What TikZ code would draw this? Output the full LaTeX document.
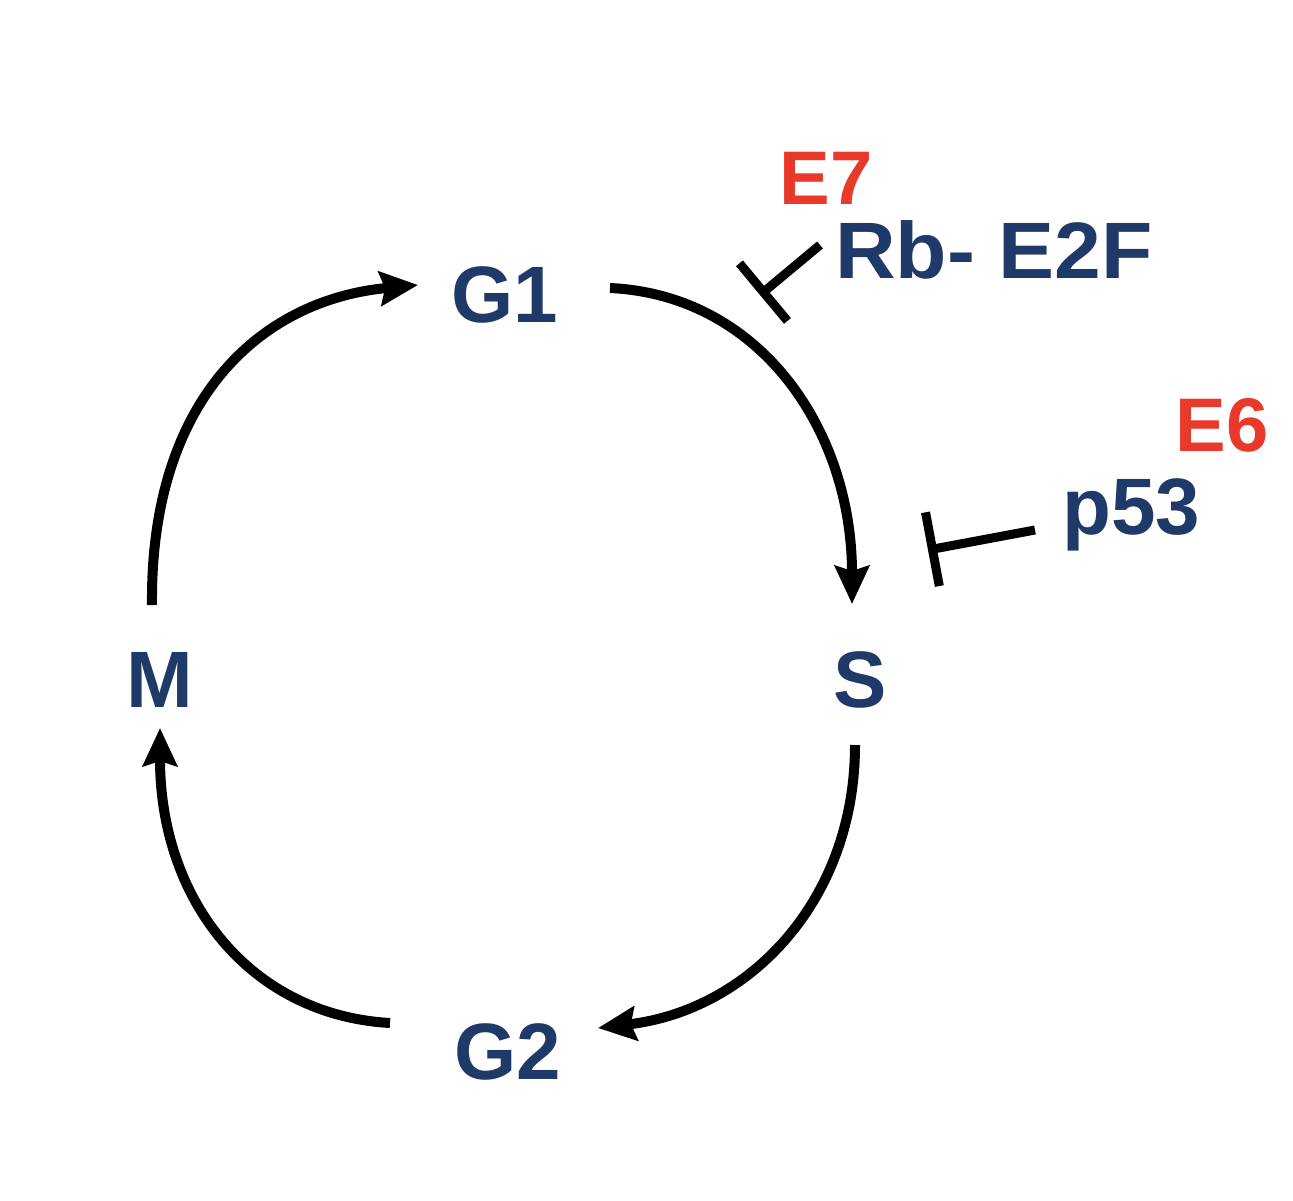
\documentclass[tikz,border=0pt]{standalone}
\usepackage{fontspec}
\setmainfont{Liberation Sans}
\usetikzlibrary{arrows.meta}
\definecolor{dblue}{HTML}{1F3A68}
\definecolor{ered}{HTML}{E8392A}
\tikzset{
 lbl/.style={font=\bfseries\fontsize{80}{80}\selectfont, text=dblue, inner sep=0pt},
 rlbl/.style={font=\bfseries\fontsize{76}{76}\selectfont, text=ered, inner sep=0pt},
 cyc/.style={line width=10pt, -{Stealth[length=38pt,width=34pt,inset=5pt]}},
 inh/.style={line width=9pt, -{Bar[width=75pt]}}
}
\begin{document}
\begin{tikzpicture}[x=1pt,y=-1pt]
\useasboundingbox (0,0) rectangle (1293,1200);
\node[lbl] (G1) at (505,295) {G1};
\node[lbl] (S) at (860,680) {S};
\node[lbl] (M) at (160,680) {M};
\node[lbl] (G2) at (508,1052) {G2};
\node[lbl, anchor=west, xscale=1.05] (Rb) at (835,250) {Rb- E2F};
\node[rlbl] (E7) at (826,178) {E7};
\node[lbl, anchor=west] (p53) at (1062,515) {p53};
\node[rlbl] (E6) at (1222,425) {E6};
\coordinate (a1) at (152,605); \coordinate (a2) at (418,285);
\coordinate (b1) at (610,288); \coordinate (b2) at (852,604);
\coordinate (c1) at (855,745); \coordinate (c2) at (598,1028);
\coordinate (d1) at (390,1023); \coordinate (d2) at (160,728);
\draw[cyc] (a1) .. controls (150,400) and (260,300) .. (a2);
\draw[cyc] (b1) .. controls (760,295) and (852,430) .. (b2);
\draw[cyc] (c1) .. controls (855,900) and (750,1010) .. (c2);
\draw[cyc] (d1) .. controls (250,1015) and (160,900) .. (d2);
\coordinate (r1) at (820,245); \coordinate (r2) at (760,295);
\coordinate (p1) at (1035,530); \coordinate (p2) at (928,550);
\draw[inh] (r1) -- (r2);
\draw[inh] (p1) -- (p2);
\end{tikzpicture}
\end{document}
